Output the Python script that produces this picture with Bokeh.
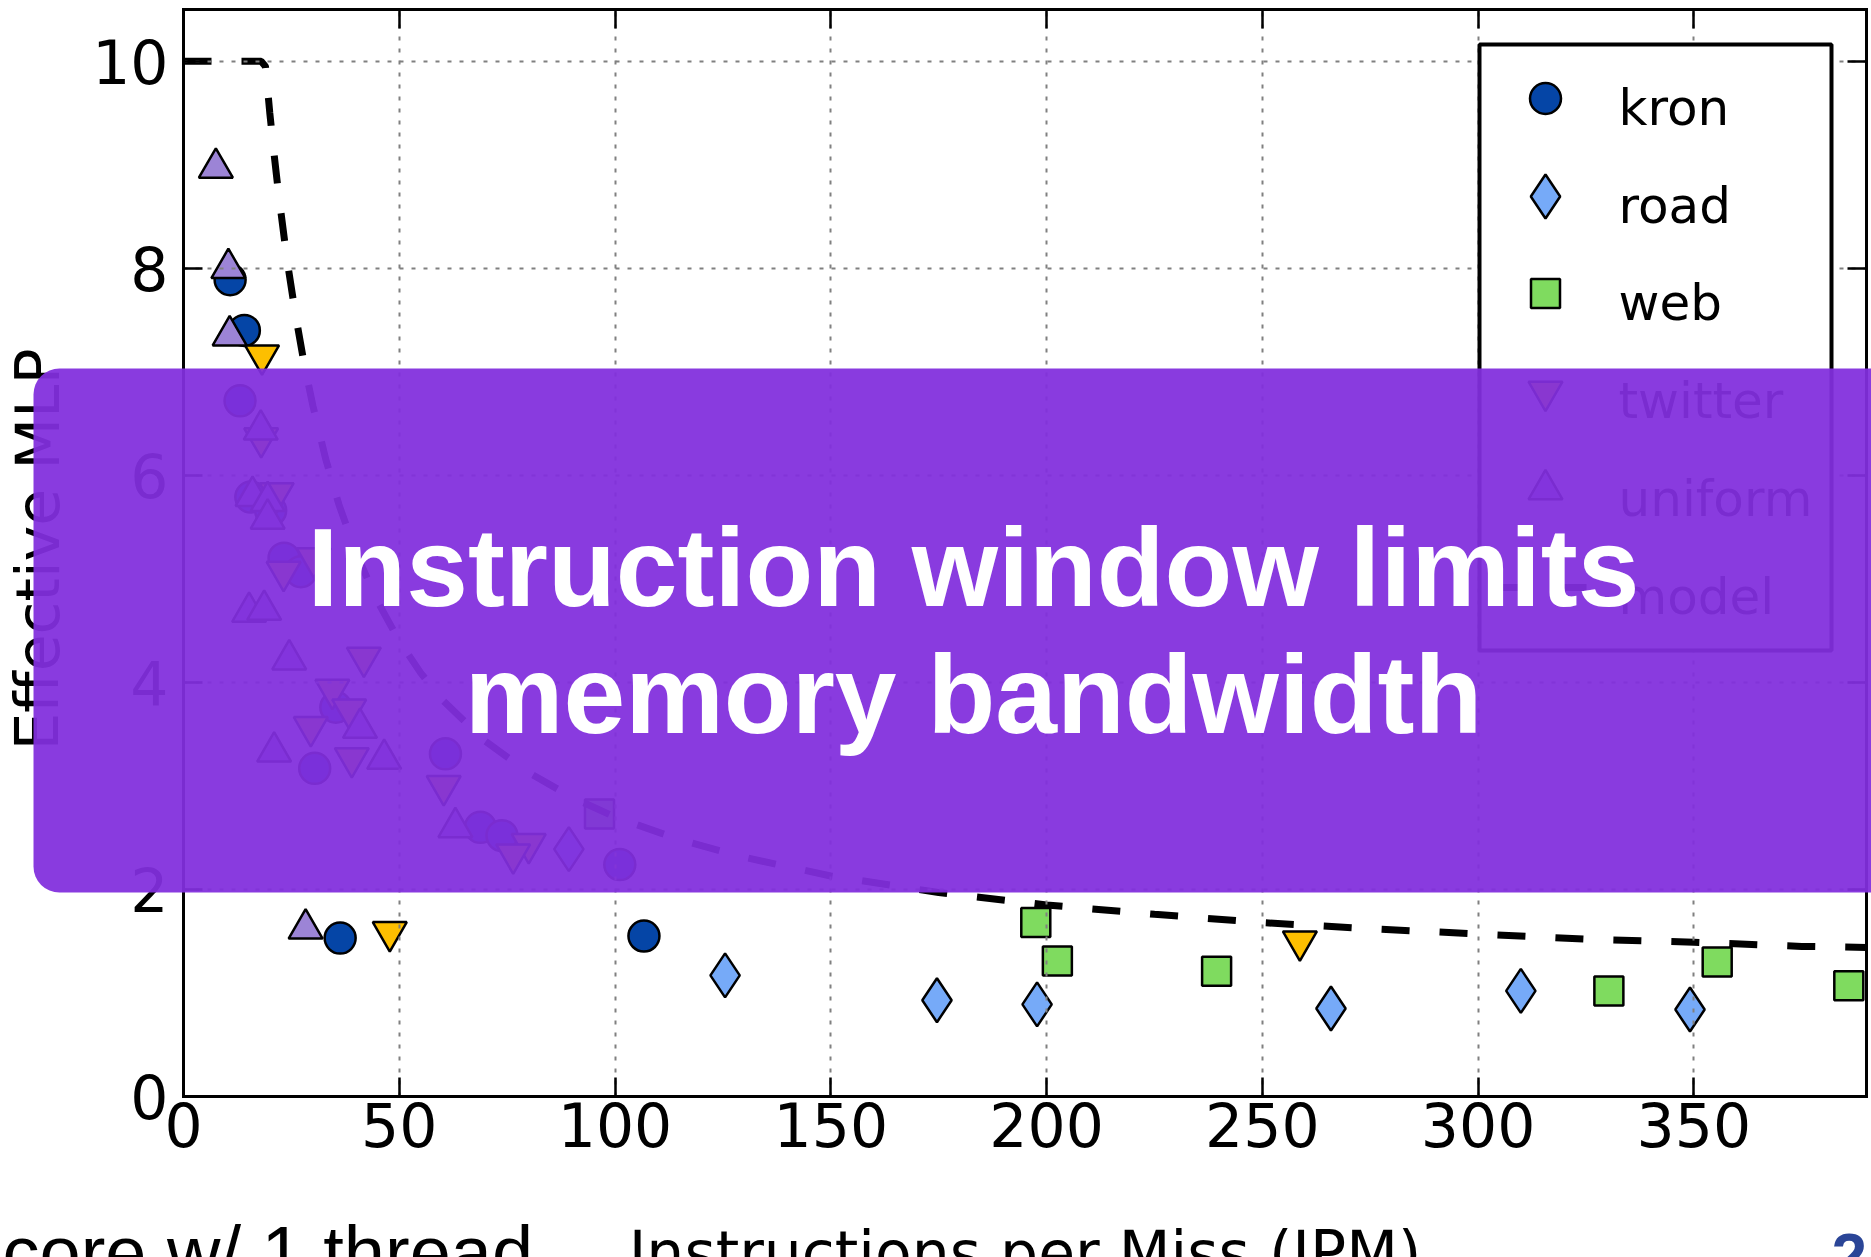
from bokeh.plotting import figure
from bokeh.models import Range1d, FixedTicker, LinearAxis, Label, BoxAnnotation
from bokeh.core.properties import value
from bokeh.embed import file_html
from bokeh.resources import INLINE

# ---------------- data ----------------
kron_x = [10.8, 14.1, 13.1, 15.6, 20.2, 23.3, 27.2, 35.3, 30.4, 60.7, 68.8, 73.8, 101.1, 36.3, 106.7]
kron_y = [7.89, 7.40, 6.72, 5.79, 5.66, 5.20, 5.07, 3.76, 3.17, 3.31, 2.60, 2.52, 2.24, 1.53, 1.55]

road_x = [89.3, 125.5, 174.6, 197.8, 265.9, 309.9, 349.1]
road_y = [2.39, 1.17, 0.93, 0.89, 0.85, 1.02, 0.84]

web_x = [96.4, 197.5, 202.5, 239.4, 330.3, 355.4, 385.9]
web_y = [2.73, 1.68, 1.31, 1.21, 1.02, 1.30, 1.07]

twitter_x = [18.2, 18.0, 21.6, 23.2, 30.2, 41.8, 34.5, 38.4, 29.5, 39.0, 60.3, 80.0, 76.4, 47.8, 258.7]
twitter_y = [7.16, 6.36, 5.83, 5.07, 5.20, 4.24, 3.93, 3.74, 3.57, 3.27, 3.00, 2.44, 2.34, 1.59, 1.50]

uniform_x = [7.5, 10.4, 10.7, 17.9, 16.0, 19.5, 19.5, 15.2, 18.7, 24.5, 40.9, 21.0, 46.5, 63.0, 28.3]
uniform_y = [8.97, 8.00, 7.35, 6.44, 5.80, 5.75, 5.58, 4.68, 4.70, 4.22, 3.56, 3.33, 3.26, 2.60, 1.62]

model_x = [0, 18, 19, 20, 21, 22, 24, 26, 28, 30, 33, 36, 40, 45, 50, 55, 60, 70, 80, 90,
           100, 115, 130, 150, 175, 200, 225, 250, 275, 300, 325, 350, 375, 390]
model_y = [10.0, 10.0, 9.95, 9.50, 9.10, 8.73, 8.08, 7.54, 7.07, 6.67, 6.15, 5.72, 5.25, 4.78,
           4.40, 4.09, 3.83, 3.43, 3.13, 2.89, 2.70, 2.48, 2.31, 2.13, 1.97, 1.85, 1.76, 1.68,
           1.62, 1.57, 1.52, 1.49, 1.45, 1.44]

series_names = ["kron", "road", "web", "twitter", "uniform", "model"]

x_ticks = [0, 50, 100, 150, 200, 250, 300, 350]
y_ticks = [0, 2, 4, 6, 8, 10]

x_title = "Instructions per Miss (IPM)"
y_title = "Effective MLP"
overlay_line1 = "Instruction window limits"
overlay_line2 = "memory bandwidth"
footer_text = "core w/ 1 thread"
page_number = "2"

# ---------------- layout / style constants ----------------
W, H = 1871, 1257
X_MAX, Y_MAX = 390, 10.5
FRAME_L, FRAME_R, FRAME_T, FRAME_B = 183, 1866, 9, 1096   # axes box, page pixels
SX = (FRAME_R - FRAME_L) / X_MAX
SY = (FRAME_B - FRAME_T) / Y_MAX

STYLES = {
    "kron": dict(marker="circle", size=31, fill_color="#0545A6"),
    "road": dict(marker="diamond", size=44, fill_color="#76AAF8"),
    "web": dict(marker="square", size=29, fill_color="#7FDB5F"),
    "twitter": dict(marker="inverted_triangle", size=34, fill_color="#FDBF00"),
    "uniform": dict(marker="triangle", size=34, fill_color="#9C84D6"),
}
EDGE = dict(line_color="black", line_width=2.5)
MODEL_LINE = dict(line_color="black", line_width=7, line_dash="28 30")

# legend box (page pixels)
LEG_L, LEG_R, LEG_T, LEG_B = 1479, 1831, 44, 650
LEG_ROWS = [98, 196, 293, 391, 489, 587]
LEG_MARK_X, LEG_TEXT_X = 1545, 1618
LEG_LINE_X = (1500, 1590)


def dx(px):
    return (px - FRAME_L) / SX


def dy(py):
    return (FRAME_B - py) / SY


# the drawing area covers the whole page so that slide texts and the
# overlay are not clipped; the axes sit at fixed data locations
p = figure(width=W, height=H, output_backend="svg", toolbar_location=None,
           x_range=Range1d(dx(0), dx(W)), y_range=Range1d(dy(H), dy(0)),
           min_border=0, min_border_left=0, min_border_right=0,
           min_border_top=0, min_border_bottom=0)
p.background_fill_color = "white"
p.border_fill_color = "white"
p.outline_line_color = None


def style_axis(ax, ticks, show_labels, standoff=10):
    ax.ticker = FixedTicker(ticks=ticks)
    ax.axis_line_color = "black"
    ax.axis_line_width = 3
    ax.axis_line_cap = "square"
    ax.major_tick_in = 19
    ax.major_tick_out = 0
    ax.major_tick_line_width = 2.5
    ax.major_tick_line_color = "black"
    ax.minor_tick_line_color = None
    ax.major_label_text_font = "DejaVu Sans"
    ax.major_label_text_color = "black"
    if show_labels:
        ax.major_label_text_font_size = "60px"
        ax.major_label_standoff = standoff
    else:
        ax.major_label_text_font_size = "1px"
        ax.major_label_text_alpha = 0
        ax.major_label_standoff = 0


xa = p.xaxis[0]
ya = p.yaxis[0]
style_axis(xa, x_ticks, True, 5)
style_axis(ya, y_ticks, True, 15)
xa.fixed_location = 0
xa.bounds = (0, X_MAX)
ya.fixed_location = 0
ya.bounds = (0, Y_MAX)

top_ax = LinearAxis(fixed_location=Y_MAX, bounds=(0, X_MAX))
right_ax = LinearAxis(fixed_location=X_MAX, bounds=(0, Y_MAX))
style_axis(top_ax, x_ticks, False)
style_axis(right_ax, y_ticks, False)
p.add_layout(top_ax, "above")
p.add_layout(right_ax, "right")

# grid drawn over the data points (as in the original), under the legend
for g, ticks, cross in ((p.xgrid[0], x_ticks, (0, Y_MAX)), (p.ygrid[0], y_ticks, (0, X_MAX))):
    g.ticker = FixedTicker(ticks=ticks)
    g.cross_bounds = cross
    g.grid_line_color = "#808080"
    g.grid_line_width = 2
    g.grid_line_dash = "4 8"
    g.level = "underlay"

# ---------------- data marks ----------------
series = [("kron", kron_x, kron_y), ("road", road_x, road_y), ("web", web_x, web_y),
          ("twitter", twitter_x, twitter_y), ("uniform", uniform_x, uniform_y)]
for name, xs, ys in series:
    p.scatter(xs, ys, level="image", name=name, **STYLES[name], **EDGE)
p.line(model_x, model_y, level="image", name="model", **MODEL_LINE)

# ---------------- legend (drawn under the purple overlay) ----------------
p.quad(left=[dx(LEG_L)], right=[dx(LEG_R)], top=[dy(LEG_T)], bottom=[dy(LEG_B)],
       fill_color="white", line_color="black", line_width=4, level="glyph")
for (name, _, _), row in zip(series, LEG_ROWS):
    p.scatter([dx(LEG_MARK_X)], [dy(row)], level="glyph", **STYLES[name], **EDGE)
p.line([dx(LEG_LINE_X[0]), dx(LEG_LINE_X[1])], [dy(LEG_ROWS[5])] * 2, level="glyph", **MODEL_LINE)
p.text(x=[dx(LEG_TEXT_X)] * len(series_names), y=[dy(r + 9) for r in LEG_ROWS],
       text=series_names, text_font=value("DejaVu Sans"), text_font_size=value("50px"),
       text_color="black", text_align="left", text_baseline="alphabetic", level="glyph")

TEXT = dict(text_baseline="alphabetic")

# axis titles
p.add_layout(Label(x=dx(1024.5), y=dy(1252), text=x_title, text_font="DejaVu Sans",
                   text_font_size="60px", text_color="black", text_align="center", **TEXT))
p.add_layout(Label(x=dx(37), y=dy(549), text=y_title, text_font="DejaVu Sans",
                   text_font_size="60px", text_color="black", text_align="center",
                   angle=1.5707963, **TEXT))

# slide texts partly cut at the bottom edge
p.add_layout(Label(x=dx(2), y=dy(1252), text=footer_text, text_font="Liberation Sans",
                   text_font_size="74px", text_color="black", text_align="left", **TEXT))
p.add_layout(Label(x=dx(1831), y=dy(1256), text=page_number, text_font="Liberation Sans",
                   text_font_style="bold", text_font_size="64px", text_color="#2A4597",
                   text_align="left", **TEXT))

# purple overlay box with its message
p.add_layout(BoxAnnotation(left=dx(33), right=dx(1912), top=dy(368), bottom=dy(892),
                           fill_color="#822FDD", fill_alpha=0.94, line_color=None,
                           border_radius=26))
p.add_layout(Label(x=dx(973), y=dy(567), text=overlay_line1, text_font="Liberation Sans",
                   text_font_style="bold", text_font_size="111px", text_color="white",
                   text_align="center", **TEXT))
p.add_layout(Label(x=dx(973), y=dy(694), text=overlay_line2, text_font="Liberation Sans",
                   text_font_style="bold", text_font_size="111px", text_color="white",
                   text_align="center", **TEXT))

open("out.html", "w").write(file_html(p, INLINE))
